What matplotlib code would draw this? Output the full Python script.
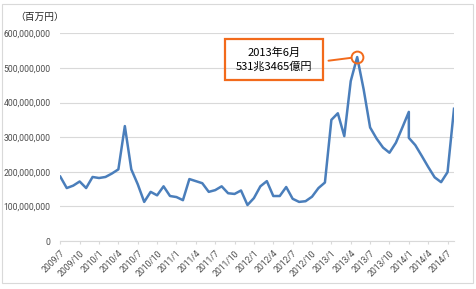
import matplotlib
matplotlib.use("Agg")
import matplotlib.pyplot as plt
from matplotlib.patches import Rectangle

plt.rcParams['font.family'] = ['Roboto', 'Noto Sans CJK JP', 'DejaVu Sans']

# monthly figures in 百万円 (2014/1 appears twice in the source data)
months = ["2009/7", "2009/8", "2009/9", "2009/10", "2009/11", "2009/12",
          "2010/1", "2010/2", "2010/3", "2010/4", "2010/5", "2010/6",
          "2010/7", "2010/8", "2010/9", "2010/10", "2010/11", "2010/12",
          "2011/1", "2011/2", "2011/3", "2011/4", "2011/5", "2011/6",
          "2011/7", "2011/8", "2011/9", "2011/10", "2011/11", "2011/12",
          "2012/1", "2012/2", "2012/3", "2012/4", "2012/5", "2012/6",
          "2012/7", "2012/8", "2012/9", "2012/10", "2012/11", "2012/12",
          "2013/1", "2013/2", "2013/3", "2013/4", "2013/5", "2013/6",
          "2013/7", "2013/8", "2013/9", "2013/10", "2013/11", "2013/12",
          "2014/1", "2014/1", "2014/2", "2014/3", "2014/4", "2014/5",
          "2014/6", "2014/7", "2014/8"]
values = [186, 153, 160, 172, 153, 185,
          182, 185, 195, 207, 332, 207,
          164, 113, 142, 132, 158, 130,
          127, 118, 179, 173, 167, 142,
          147, 158, 138, 136, 146, 104,
          124, 158, 173, 130, 130, 156,
          122, 113, 115, 128, 153, 169,
          350, 369, 303, 462, 531.3465, 438,
          328, 296, 270, 255, 284, 328,
          373, 298, 277, 246, 214, 184,
          170, 199, 382]
values = [v * 1e6 for v in values]

tick_labels = ["2009/7", "2009/10", "2010/1", "2010/4", "2010/7", "2010/10",
               "2011/1", "2011/4", "2011/7", "2011/10", "2012/1", "2012/4",
               "2012/7", "2012/10", "2013/1", "2013/4", "2013/7", "2013/10",
               "2014/1", "2014/4", "2014/7"]
y_ticks = [0, 100000000, 200000000, 300000000, 400000000, 500000000, 600000000]

peak_label = "2013年6月\n531兆3465億円"


def month_index(s):
    y, m = s.split("/")
    return (int(y) - 2009) * 12 + int(m) - 7


x = [month_index(m) for m in months]
xt = [month_index(m) for m in tick_labels]

blue = "#4A7EBB"
orange = "#F26A1B"
grid = "#D9D9D9"
txt = "#4D4D4D"

fig = plt.figure(figsize=(4.77, 2.89), dpi=100)
fig.patches.append(Rectangle((2 / 477, 1 - 283 / 289), 471 / 477, 279 / 289,
                             transform=fig.transFigure, fill=False,
                             edgecolor=grid, lw=0.8))

ax = fig.add_axes([0.1264, 0.166, 0.8254, 0.7188])
ax.plot(x, values, color=blue, lw=1.8, solid_joinstyle='round')

ax.set_xlim(0, month_index("2014/8"))
ax.set_ylim(0, 600000000)
ax.set_yticks(y_ticks)
ax.set_yticklabels(["{:,}".format(v) for v in y_ticks], fontsize=6.2, color=txt)
ax.set_xticks(xt)
ax.set_xticklabels(tick_labels, rotation=45, ha='right', rotation_mode='anchor',
                   fontsize=6.2, color=txt)
ax.tick_params(axis='y', length=0, pad=7)
ax.tick_params(axis='x', length=2.5, color=grid, pad=3)
ax.grid(axis='y', color=grid, lw=0.8)
ax.set_axisbelow(True)
for s in ['top', 'right', 'left']:
    ax.spines[s].set_visible(False)
ax.spines['bottom'].set_color(grid)
ax.spines['bottom'].set_linewidth(0.8)

fig.text(15 / 477, 1 - 17 / 289, "（百万円）", fontsize=7, color="#262626",
         va='center', family=['Noto Sans CJK JP'])

# peak marker and call-out box
i_peak = values.index(max(values))
ax.plot(x[i_peak], values[i_peak], 'o', ms=8.5, mfc='none', mec=orange, mew=1.4)
fig.patches.append(Rectangle((225 / 477, 1 - 80 / 289), 98 / 477, 41 / 289,
                             transform=fig.transFigure, fill=False,
                             edgecolor=orange, lw=1.6))
fig.text(274 / 477, 1 - 59.5 / 289, peak_label, ha='center', va='center',
         fontsize=8, linespacing=1.4, family=['Noto Sans CJK JP'])
ax.annotate("", xy=(x[i_peak], values[i_peak]),
            xytext=(328.5 / 477, 1 - 60.7 / 289), textcoords='figure fraction',
            arrowprops=dict(arrowstyle='-', color=orange, lw=1.4,
                            shrinkA=0, shrinkB=4.3))

fig.savefig("out.png", dpi=100)
